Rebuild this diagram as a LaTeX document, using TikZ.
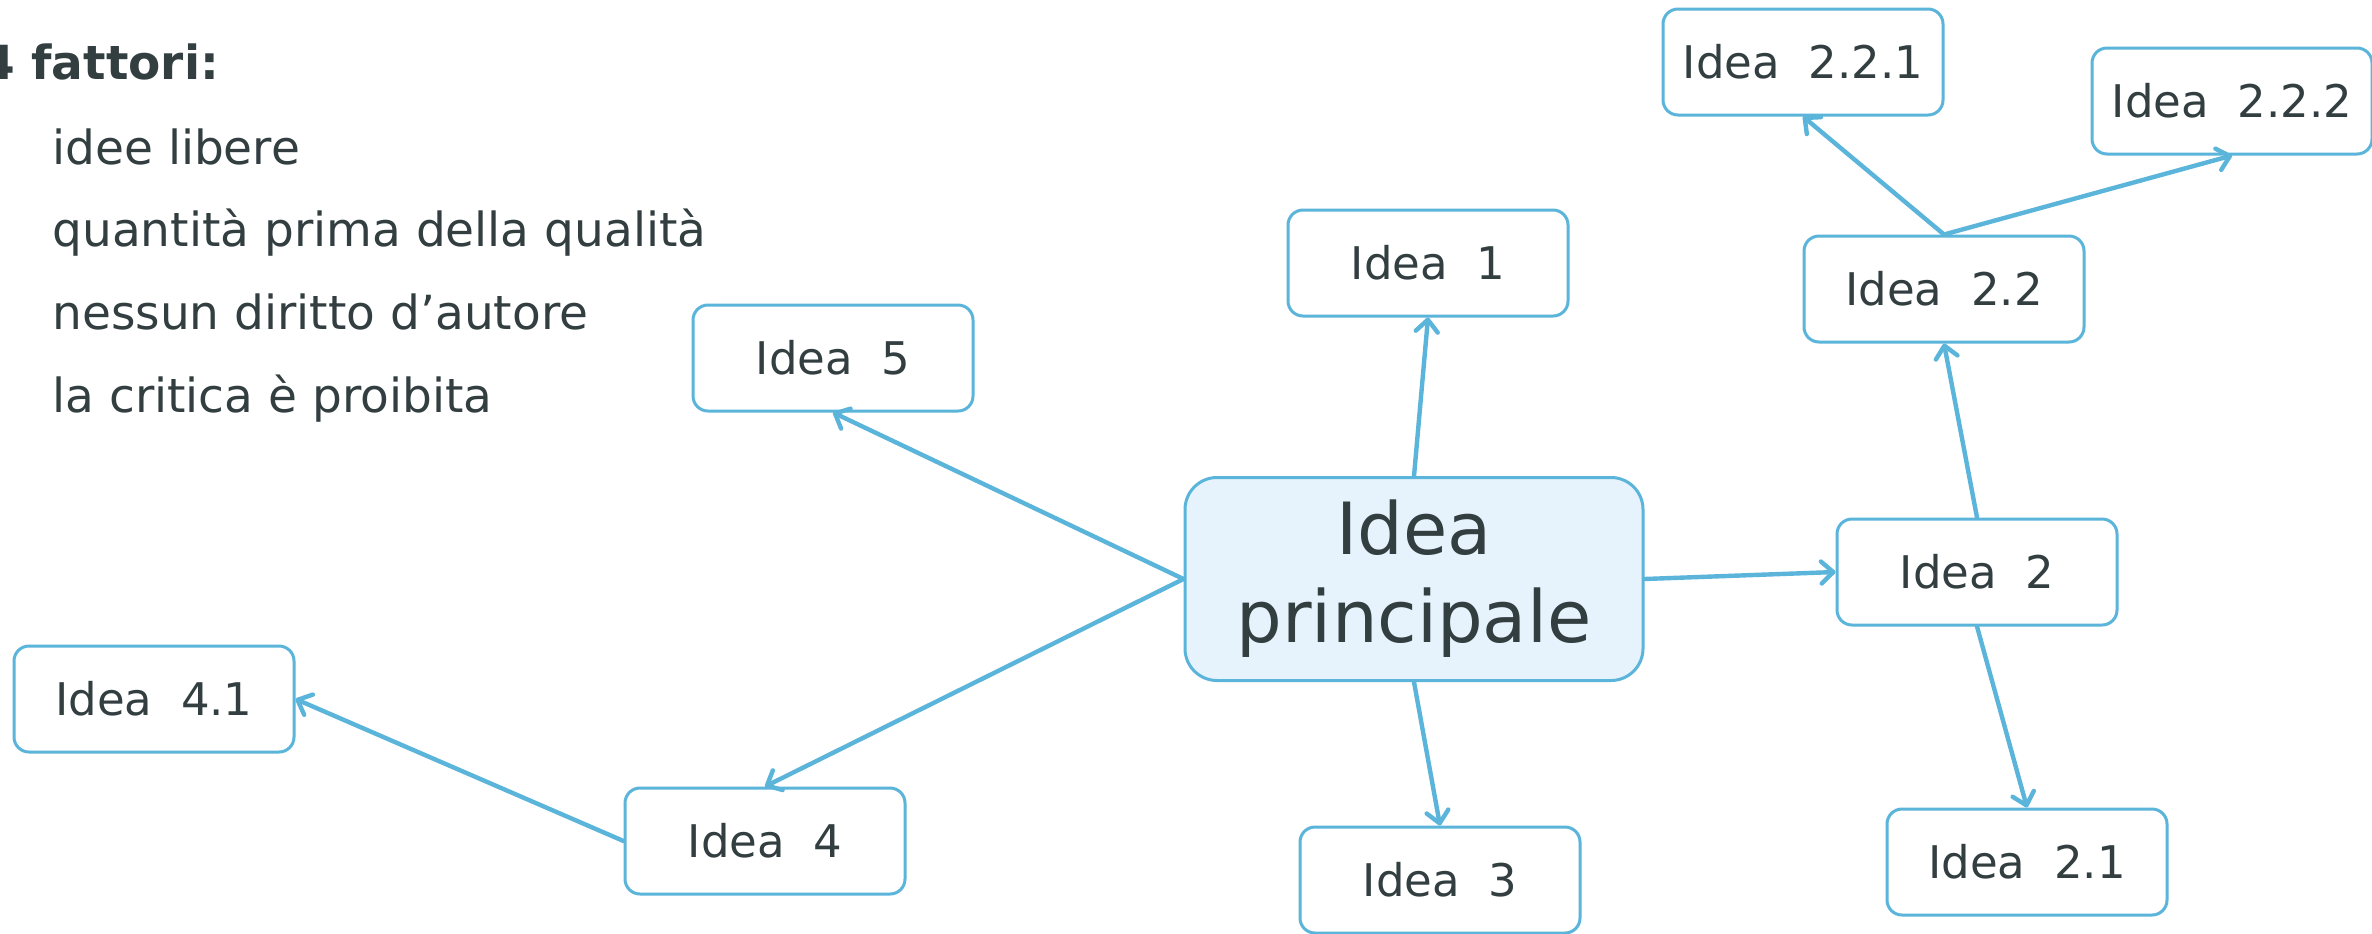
\documentclass[tikz,border=0pt]{standalone}
\usepackage{fontspec}
\setmainfont{DejaVu Sans}
\usetikzlibrary{arrows.meta}
\definecolor{txt}{HTML}{323E40}
\definecolor{bord}{HTML}{5BB5DA}
\definecolor{mainfill}{HTML}{E6F3FC}
\begin{document}
\begin{tikzpicture}[x=0.5pt,y=-0.5pt,
  idea/.style={draw=bord, line width=1.5pt, rounded corners=7.5pt, fill=white,
    minimum width=140pt, minimum height=53pt, text=txt,
    font=\fontsize{22.5}{27}\selectfont, inner sep=0pt},
  mainidea/.style={draw=bord, line width=1.5pt, rounded corners=16pt, fill=mainfill,
    minimum width=229pt, minimum height=101.5pt, text=txt, align=center,
    font=\fontsize{36}{44}\selectfont, inner sep=0pt},
  conn/.style={draw=bord, line width=2.2pt, line cap=round,
    -{Straight Barb[round,length=6pt,width=11pt]}},
  listtxt/.style={text=txt, font=\fontsize{23.5}{28}\selectfont, anchor=base west, inner sep=0pt}]
\useasboundingbox (0,0) rectangle (2372,933);
\fill[white] (0,0) rectangle (2372,933);

% left list
\node[listtxt, font=\fontsize{23.5}{28}\selectfont\bfseries] (title) at (-18,79) {4 fattori:};
\node[listtxt] (l1) at (52,164) {idee libere};
\node[listtxt] (l2) at (52,246) {quantità prima della qualità};
\node[listtxt] (l3) at (52,329) {nessun diritto d’autore};
\node[listtxt] (l4) at (52,412) {la critica è proibita};

% nodes
\node[mainidea] (main) at (1414,579) {Idea\\principale};
\node[idea] (i1) at (1428,263) {Idea~~1};
\node[idea] (i5) at (833,358) {Idea~~5};
\node[idea] (i2) at (1977,572) {Idea~~2};
\node[idea] (i22) at (1944,289) {Idea~~2.2};
\node[idea] (i221) at (1803,62) {Idea~~2.2.1};
\node[idea] (i222) at (2232,101) {Idea~~2.2.2};
\node[idea] (i21) at (2027,862) {Idea~~2.1};
\node[idea] (i3) at (1440,880) {Idea~~3};
\node[idea] (i4) at (765,841) {Idea~~4};
\node[idea] (i41) at (154,699) {Idea~~4.1};

% connectors
\draw[conn] (main.north) -- (i1.south);
\draw[conn] (main.west) -- (i5.south);
\draw[conn] (main.west) -- (i4.north);
\draw[conn] (main.south) -- (i3.north);
\draw[conn] (main.east) -- (i2.west);
\draw[conn] (i2.north) -- (i22.south);
\draw[conn] (i2.south) -- (i21.north);
\draw[conn] (i22.north) -- (i221.south);
\draw[conn] (i22.north) -- (i222.south);
\draw[conn] (i4.west) -- (i41.east);
\end{tikzpicture}
\end{document}
